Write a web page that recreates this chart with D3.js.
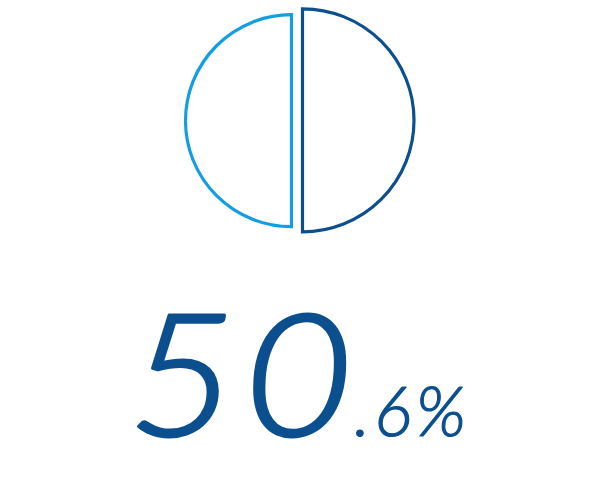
<!DOCTYPE html>
<html><head><meta charset="utf-8">
<script src="https://cdn.jsdelivr.net/npm/d3@7"></script>
<style>html,body{margin:0;padding:0;background:#fff;}svg{display:block;}</style>
</head><body>
<script>
// data
const sliceNames = ["rest", "share"];
const sliceValues = [49.4, 50.6];
const sliceColors = ["#129ee0", "#0b4f8f"];
const mainLabel = "50";
const decimalLabel = ".6%";

const W = 600, H = 500;
const svg = d3.select("body").append("svg").attr("width", W).attr("height", H);

const pie = d3.pie().sort(null).value(() => 1).startAngle(Math.PI).endAngle(3 * Math.PI);
const arcs = pie(sliceValues);
const rScale = d3.scaleLinear().domain([49.4, 50.6]).range([106, 111.5]);
const centers = [[291.5, 120.7], [302.5, 120.3]];

svg.selectAll("path.slice").data(arcs).join("path")
  .attr("class", "slice")
  .attr("transform", (d, i) => `translate(${centers[i][0]},${centers[i][1]})`)
  .attr("d", (d, i) => d3.arc().innerRadius(0).outerRadius(rScale(d.data))
      .startAngle(i === 0 ? Math.PI : 0).endAngle(i === 0 ? 2 * Math.PI : Math.PI)())
  .attr("fill", "none")
  .attr("stroke", (d, i) => sliceColors[i])
  .attr("stroke-width", 3.2)
  .attr("stroke-linejoin", "miter");

svg.append("text")
  .attr("transform", "translate(128,436) scale(1.1,1)")
  .attr("fill", "#0b4f8f")
  .attr("stroke", "#0b4f8f")
  .attr("stroke-width", 3)
  .attr("stroke-linejoin", "round")
  .attr("font-family", "Lato")
  .attr("font-weight", 300)
  .attr("font-style", "italic")
  .attr("font-size", 170)
  .attr("letter-spacing", 7)
  .text(mainLabel);

svg.append("text")
  .attr("x", 354).attr("y", 436)
  .attr("fill", "#0b4f8f")
  .attr("stroke", "#0b4f8f")
  .attr("stroke-width", 1.2)
  .attr("stroke-linejoin", "round")
  .attr("font-family", "Lato")
  .attr("font-weight", 300)
  .attr("font-style", "italic")
  .attr("font-size", 70)
  .attr("letter-spacing", 4)
  .text(decimalLabel);
</script>
</body></html>
